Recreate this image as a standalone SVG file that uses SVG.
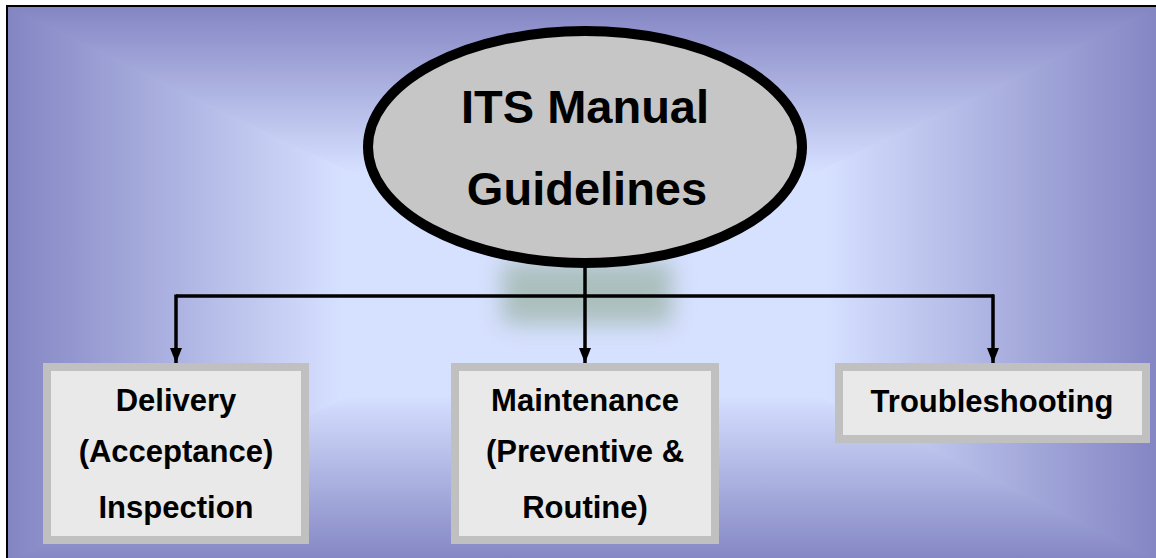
<svg xmlns="http://www.w3.org/2000/svg" width="1156" height="558" viewBox="0 0 1156 558">
  <style>
    .t { font-family: "Liberation Sans", Arial, sans-serif; font-weight: bold; fill: #000; text-anchor: middle; }
    .big { font-size: 47px; }
    .sm { font-size: 31px; }
    .box { fill: #e9e9e9; stroke: #c0c0c0; stroke-width: 8; }
    .conn { stroke: #000; stroke-width: 3.5; fill: none; }
  </style>
  <defs>
    <linearGradient id="gL" gradientUnits="userSpaceOnUse" x1="7" y1="0" x2="583" y2="0">
      <stop offset="0" stop-color="#8385c3"/><stop offset="0.58" stop-color="#d6e0ff"/><stop offset="1" stop-color="#d6e0ff"/>
    </linearGradient>
    <linearGradient id="gR" gradientUnits="userSpaceOnUse" x1="1160" y1="0" x2="583" y2="0">
      <stop offset="0" stop-color="#8385c3"/><stop offset="0.58" stop-color="#d6e0ff"/><stop offset="1" stop-color="#d6e0ff"/>
    </linearGradient>
    <linearGradient id="gT" gradientUnits="userSpaceOnUse" x1="0" y1="6" x2="0" y2="284">
      <stop offset="0" stop-color="#8385c3"/><stop offset="0.6" stop-color="#d6e0ff"/><stop offset="1" stop-color="#d6e0ff"/>
    </linearGradient>
    <linearGradient id="gB" gradientUnits="userSpaceOnUse" x1="0" y1="562" x2="0" y2="284">
      <stop offset="0" stop-color="#8385c3"/><stop offset="0.6" stop-color="#d6e0ff"/><stop offset="1" stop-color="#d6e0ff"/>
    </linearGradient>
    <filter id="blur" x="-50%" y="-50%" width="200%" height="200%">
      <feGaussianBlur stdDeviation="11"/>
    </filter>
    <marker id="arr" markerWidth="15" markerHeight="12" refX="15" refY="6" orient="auto" markerUnits="userSpaceOnUse">
      <path d="M0,0 L15,6 L0,12 Z" fill="#000"/>
    </marker>
  </defs>

  <g id="background">
    <rect x="0" y="0" width="1156" height="558" fill="#ffffff"/>
    <rect x="7" y="6" width="1160" height="560" fill="#b0b6e6"/>
    <polygon points="7,6 583,284 7,562" fill="url(#gL)" stroke="url(#gL)" stroke-width="1.5"/>
    <polygon points="1160,6 583,284 1160,562" fill="url(#gR)" stroke="url(#gR)" stroke-width="1.5"/>
    <polygon points="7,6 1160,6 583,284" fill="url(#gT)" stroke="url(#gT)" stroke-width="1.5"/>
    <polygon points="7,562 1160,562 583,284" fill="url(#gB)" stroke="url(#gB)" stroke-width="1.5"/>
    <rect x="7" y="6" width="1160" height="560" fill="none" stroke="#000" stroke-width="2"/>
    <rect x="502" y="262" width="170" height="62" fill="#88a588" opacity="0.55" filter="url(#blur)"/>
  </g>

  <g id="connectors">
    <line class="conn" x1="585" y1="262" x2="585" y2="363" marker-end="url(#arr)"/>
    <line class="conn" x1="176" y1="296" x2="994" y2="296"/>
    <line class="conn" x1="176" y1="294.5" x2="176" y2="363" marker-end="url(#arr)"/>
    <line class="conn" x1="993" y1="294.5" x2="993" y2="363" marker-end="url(#arr)"/>
  </g>

  <g id="node-root">
    <ellipse cx="585" cy="147" rx="217" ry="116" fill="#c6c6c6" stroke="#000" stroke-width="10"/>
    <text class="t big" x="585" y="123">ITS Manual</text>
    <text class="t big" x="587" y="205">Guidelines</text>
  </g>

  <g id="node-delivery">
    <rect class="box" x="47" y="367" width="258" height="173"/>
    <text class="t sm" x="176" y="411">Delivery</text>
    <text class="t sm" x="176" y="462">(Acceptance)</text>
    <text class="t sm" x="176" y="518">Inspection</text>
  </g>

  <g id="node-maintenance">
    <rect class="box" x="455" y="367" width="260" height="173"/>
    <text class="t sm" x="585" y="411">Maintenance</text>
    <text class="t sm" x="585" y="462">(Preventive &amp;</text>
    <text class="t sm" x="585" y="518">Routine)</text>
  </g>

  <g id="node-troubleshooting">
    <rect class="box" x="839" y="367" width="307" height="72"/>
    <text class="t sm" x="992" y="412">Troubleshooting</text>
  </g>
</svg>
